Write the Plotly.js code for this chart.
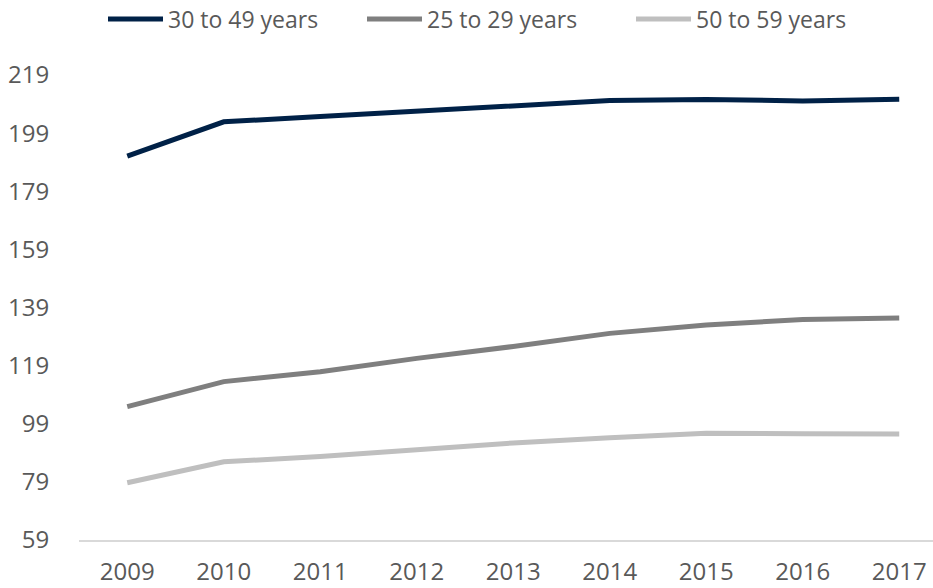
<!DOCTYPE html>
<html>
<head>
<meta charset="utf-8">
<script src="https://cdn.plot.ly/plotly-3.0.1.min.js"></script>
<style>html,body{margin:0;padding:0;background:#fff;}#chart{width:933px;height:588px;}</style>
</head>
<body>
<div id="chart"></div>
<script>
// ---- data ----
const years = ["2009","2010","2011","2012","2013","2014","2015","2016","2017"];
const seriesNames = ["30 to 49 years", "25 to 29 years", "50 to 59 years"];
const age30to49 = [191.1, 202.9, 204.7, 206.4, 208.2, 210.2, 210.6, 210.1, 210.7];
const age25to29 = [104.9, 113.5, 116.9, 121.5, 125.6, 130.1, 133.0, 134.9, 135.4];
const age50to59 = [78.7, 85.9, 87.7, 90.0, 92.4, 94.2, 95.7, 95.6, 95.5];
const yTicks = [59, 79, 99, 119, 139, 159, 179, 199, 219];

// ---- styles ----
const colors = ["#002147", "#7f7f7f", "#bfbfbf"];
const seriesValues = [age30to49, age25to29, age50to59];
const FONT = "Open Sans, sans-serif";
const W = 933, H = 588, ML = 79, MR = 0, MT = 58, MB = 48;
const PW = W - ML - MR, PH = H - MT - MB;

const traces = seriesValues.map((vals, i) => ({
  type: "scatter",
  mode: "lines",
  name: seriesNames[i],
  x: years,
  y: vals,
  line: {color: colors[i], width: 5},
  showlegend: false,
  hoverinfo: "x+y"
}));

// custom legend (long line symbols like the original)
const legendLineStart = [108, 367, 636];
const legendLineLen = 55;
const legendY = 19;
const px2x = p => (p - ML) / PW;
const py2y = p => (H - MB - p) / PH;
const shapes = [], annotations = [];
seriesNames.forEach((n, i) => {
  shapes.push({
    type: "line", xref: "paper", yref: "paper",
    x0: px2x(legendLineStart[i]), x1: px2x(legendLineStart[i] + legendLineLen),
    y0: py2y(legendY), y1: py2y(legendY),
    line: {color: colors[i], width: 5}
  });
  annotations.push({
    xref: "paper", yref: "paper",
    x: px2x(legendLineStart[i] + legendLineLen + 3), y: py2y(legendY),
    xanchor: "left", yanchor: "middle", showarrow: false,
    text: n, font: {family: FONT, size: 23, color: "#595959"}
  });
});

const layout = {
  width: W, height: H,
  margin: {l: ML, r: MR, t: MT, b: MB, pad: 0},
  paper_bgcolor: "#ffffff", plot_bgcolor: "#ffffff",
  showlegend: false,
  font: {family: FONT, size: 24, color: "#595959"},
  xaxis: {
    type: "category",
    range: [-0.5, 8.35],
    showgrid: false, zeroline: false,
    showline: true, linecolor: "#d9d9d9", linewidth: 2,
    ticks: "outside", ticklen: 9, tickcolor: "rgba(0,0,0,0)",
    tickfont: {family: FONT, size: 24, color: "#595959"},
    fixedrange: true
  },
  yaxis: {
    range: [59, 59 + PH / 2.906],
    tickmode: "array", tickvals: yTicks, ticktext: yTicks.map(String),
    showgrid: false, zeroline: false, showline: false,
    ticks: "outside", ticklen: 24, tickcolor: "rgba(0,0,0,0)",
    tickfont: {family: FONT, size: 24, color: "#595959"},
    fixedrange: true
  },
  shapes: shapes,
  annotations: annotations
};

Plotly.newPlot("chart", traces, layout, {displayModeBar: false, staticPlot: true});
</script>
</body>
</html>
